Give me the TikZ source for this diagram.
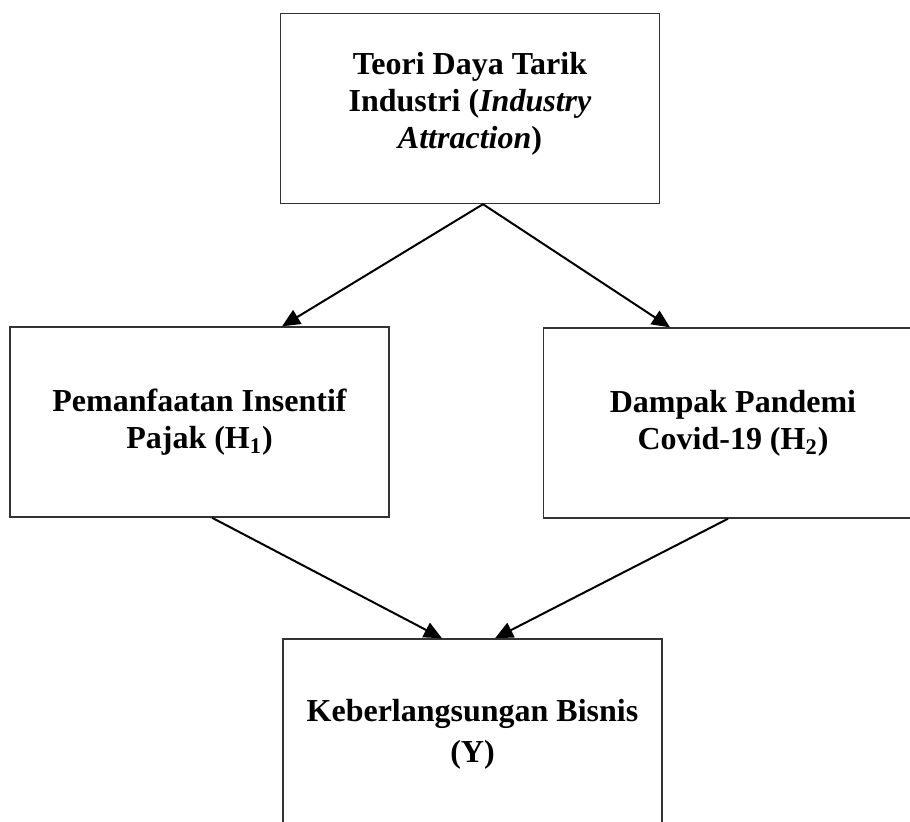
\documentclass[tikz,border=0pt]{standalone}
\usepackage{fontspec}
\setmainfont{Liberation Serif}
\usepackage{tikz}
\usetikzlibrary{positioning, arrows.meta}

\begin{document}
\begin{tikzpicture}[
    x=0.5pt, y=-0.5pt,
    font=\fontsize{16}{18.5}\selectfont\bfseries,
    every node/.style={align=center},
    box/.style={draw=black!80, line width=0.7pt, minimum width=189.5pt, minimum height=95pt, inner sep=4pt},
    arr/.style={-{Triangle[length=9pt, width=8pt]}, line width=1pt}
]

% --- Page frame ---
\clip (0,0) rectangle (910,821);

% --- Boxes ---
\node[box] (theory) at (470,108.5) {Teori Daya Tarik\\Industri (\textit{Industry}\\\textit{Attraction})\\[-10pt]\mbox{}};
\node[box] (incentive) at (199.5,422) {Pemanfaatan Insentif\\Pajak (H\textsubscript{1})};
\node[box] (pandemic) at (733,423) {Dampak Pandemi\\Covid-19 (H\textsubscript{2})};
\node[box] (survival) at (472.5,734) {Keberlangsungan Bisnis\\[2pt](Y)};

% --- Edges ---
\draw[arr] ([xshift=6.5pt]theory.south) -- ([xshift=41.25pt]incentive.north);
\draw[arr] ([xshift=6.5pt]theory.south) -- ([xshift=-31.5pt]pandemic.north);
\draw[arr] ([xshift=6.25pt]incentive.south) -- ([xshift=-15.25pt]survival.north);
\draw[arr] ([xshift=-2.5pt]pandemic.south) -- ([xshift=11.25pt]survival.north);

\end{tikzpicture}
\end{document}
